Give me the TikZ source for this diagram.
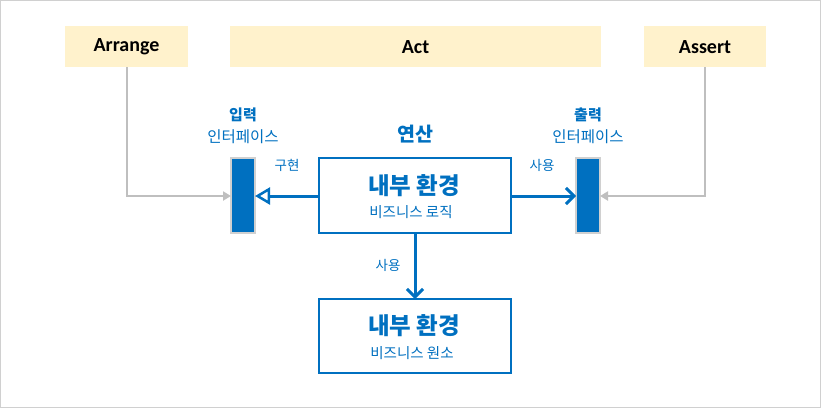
\documentclass[tikz,border=0pt]{standalone}
\usepackage{fontspec}
\setmainfont{Carlito}
\newfontfamily\kr{Noto Sans CJK KR}
\usetikzlibrary{arrows.meta}
\definecolor{blu}{HTML}{0070C0}
\definecolor{yel}{HTML}{FFF2CC}
\definecolor{gln}{HTML}{BFBFBF}
\definecolor{gbd}{HTML}{D0D0D0}
\begin{document}
\begin{tikzpicture}[x=1pt,y=-1pt,
  phase/.style={fill=yel,draw=none,font=\fontsize{20}{22}\selectfont\bfseries,text=black},
  bar/.style={fill=blu,draw=gbd,line width=1.5pt},
  env/.style={fill=white,draw=blu,line width=2pt},
  lbl/.style={text=blu,font=\kr\fontsize{13.5}{15}\selectfont,inner sep=0pt},
  garrow/.style={draw=gln,line width=2.5pt,-{Triangle[length=8pt,width=9pt]}},
  barrow/.style={draw=blu,line width=3pt}]
\draw[gbd,line width=1pt] (0.5,0.5) rectangle (820.5,407.5);
\useasboundingbox (0,0) rectangle (821,408);
% phases
\path[phase] (65,26) rectangle (188,67);
\node[phase,fill=none] (arr) at (126.5,47) {Arrange};
\coordinate (arrb) at (127,67);
\path[phase] (230,26) rectangle (601,67);
\node[phase,fill=none] (act) at (415.5,47) {Act};
\path[phase] (644,26) rectangle (766,67);
\node[phase,fill=none] (ass) at (705,47) {Assert};
\coordinate (assb) at (705,67);
% bars
\draw[bar] (231,158) rectangle (255,233);
\coordinate (inL) at (231,196);
\coordinate (inR) at (255,196);
\draw[bar] (576,158) rectangle (600,233);
\coordinate (outL) at (576,196);
\coordinate (outR) at (600,196);
% boxes
\draw[env] (319,158) rectangle (511,233);
\coordinate (mL) at (319,196);
\coordinate (mR) at (511,196);
\coordinate (mB) at (415,233);
\node[lbl,font=\kr\fontsize{23.5}{26}\selectfont\bfseries] (m1) at (414,186) {내부 환경};
\node[lbl,font=\kr\fontsize{14.5}{16}\selectfont] (m2) at (411,212) {비즈니스 로직};
\draw[env] (319,299) rectangle (511,373);
\coordinate (bT) at (415,299);
\node[lbl,font=\kr\fontsize{23.5}{26}\selectfont\bfseries] (b1) at (414,326) {내부 환경};
\node[lbl,font=\kr\fontsize{14.5}{16}\selectfont] (b2) at (412,353) {비즈니스 원소};
% labels
\node[lbl,font=\kr\fontsize{19.5}{22}\selectfont\bfseries] (op) at (415,134) {연산};
\node[lbl,font=\kr\fontsize{15}{17}\selectfont\bfseries] (inT) at (243,115) {입력};
\node[lbl,font=\kr\fontsize{15.5}{17}\selectfont] (inT2) at (243,137) {인터페이스};
\node[lbl,font=\kr\fontsize{15}{17}\selectfont\bfseries] (outT) at (588,115) {출력};
\node[lbl,font=\kr\fontsize{15.5}{17}\selectfont] (outT2) at (588,137) {인터페이스};
\node[lbl] (impl) at (287,165) {구현};
\node[lbl] (use1) at (542,165) {사용};
\node[lbl] (use2) at (388,265) {사용};
% connectors
\draw[garrow] (arrb) |- (inL);
\draw[garrow] (assb) |- (outR);
\draw[barrow,-{Triangle[open,length=15pt,width=17pt,line width=2.5pt]}] (mL) -- (inR);
\draw[barrow,-{Straight Barb[length=8pt,width=16pt,line width=3pt]}] (mR) -- (outL);
\draw[barrow,-{Straight Barb[length=8pt,width=16pt,line width=3pt]}] (mB) -- (bT);
\end{tikzpicture}
\end{document}
